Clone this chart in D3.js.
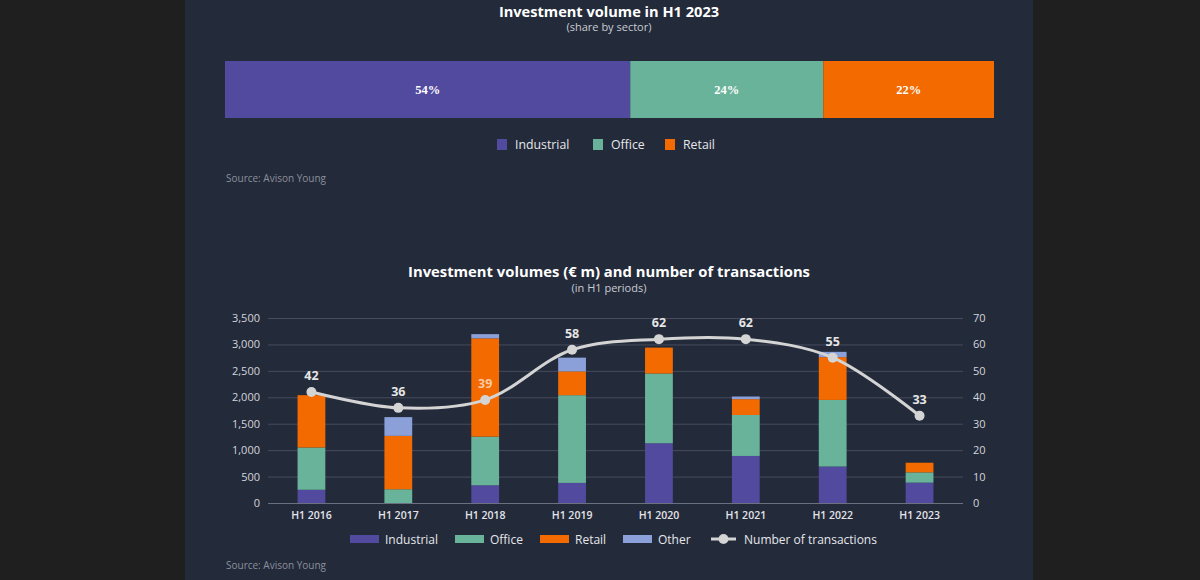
<!DOCTYPE html>
<html>
<head>
<meta charset="utf-8">
<script src="https://cdn.jsdelivr.net/npm/d3@7/dist/d3.min.js"></script>
<style>
  html, body { margin: 0; padding: 0; background: #1f1f1f; }
  svg { display: block; }
  text { font-family: "Open Sans", "Noto Sans", sans-serif; }
  text.serif { font-family: "Liberation Serif", "DejaVu Serif", serif; }
</style>
</head>
<body>
<svg id="chart" width="1200" height="580"></svg>
<script>
// ---------- DATA ----------
const shareSectors = ["Industrial", "Office", "Retail"];
const shareValues = [52.7, 25.1, 22.2];
const shareLabels = ["54%", "24%", "22%"];

const periods = ["H1 2016", "H1 2017", "H1 2018", "H1 2019", "H1 2020", "H1 2021", "H1 2022", "H1 2023"];
const industrial = [250, 0, 335, 380, 1130, 890, 690, 385];
const office = [800, 260, 920, 1660, 1320, 775, 1260, 195];
const retail = [990, 1010, 1860, 450, 490, 300, 810, 182];
const other = [0, 355, 80, 260, 0, 50, 100, 0];
const transactions = [42, 36, 39, 58, 62, 62, 55, 33];

const leftTicks = [0, 500, 1000, 1500, 2000, 2500, 3000, 3500];
const rightTicks = [0, 10, 20, 30, 40, 50, 60, 70];

const seriesNames = ["Industrial", "Office", "Retail", "Other"];
const colors = { Industrial: "#524a9e", Office: "#69b39a", Retail: "#f26a00", Other: "#8b9fd9" };

// ---------- SVG ----------
const svg = d3.select("#chart");
svg.append("rect").attr("x", 0).attr("y", 0).attr("width", 1200).attr("height", 580).attr("fill", "#1f1f1f");
svg.append("rect").attr("x", 185).attr("y", 0).attr("width", 848).attr("height", 580).attr("fill", "#232a3a");

const cx = 609;

// ---------- TOP CHART ----------
svg.append("text").attr("x", cx).attr("y", 17).attr("text-anchor", "middle")
  .attr("fill", "#ffffff").attr("font-size", 14.6).attr("font-weight", 700).text("Investment volume in H1 2023");
svg.append("text").attr("x", cx).attr("y", 31).attr("text-anchor", "middle")
  .attr("fill", "#c9ccd3").attr("font-size", 11).text("(share by sector)");

const shareTotal = d3.sum(shareValues);
const xs = d3.scaleLinear().domain([0, shareTotal]).range([225, 994]);
let acc = 0;
const shareData = shareValues.map((v, i) => { const d = { name: shareSectors[i], x0: acc, x1: acc + v, label: shareLabels[i] }; acc += v; return d; });
const topG = svg.append("g");
topG.selectAll("rect").data(shareData).enter().append("rect")
  .attr("x", d => xs(d.x0)).attr("y", 61).attr("width", d => xs(d.x1) - xs(d.x0)).attr("height", 57)
  .attr("fill", d => colors[d.name]);
topG.selectAll("text").data(shareData).enter().append("text")
  .attr("class", "serif")
  .attr("x", d => (xs(d.x0) + xs(d.x1)) / 2).attr("y", 94).attr("text-anchor", "middle")
  .attr("fill", "#ffffff").attr("font-size", 12.5).attr("font-weight", 700)
  .text(d => d.label);

// top legend
const topLegendX = [497, 593, 665];
shareSectors.forEach((s, i) => {
  svg.append("rect").attr("x", topLegendX[i]).attr("y", 139).attr("width", 10).attr("height", 11).attr("fill", colors[s]);
  svg.append("text").attr("x", topLegendX[i] + 18).attr("y", 149).attr("fill", "#e6e7ea")
    .attr("font-size", 12.3).text(s);
});
svg.append("text").attr("x", 226).attr("y", 182).attr("fill", "#8b909b").attr("font-size", 10).text("Source: Avison Young");

// ---------- BOTTOM CHART ----------
svg.append("text").attr("x", cx).attr("y", 277).attr("text-anchor", "middle")
  .attr("fill", "#ffffff").attr("font-size", 14.8).attr("font-weight", 700).text("Investment volumes (€ m) and number of transactions");
svg.append("text").attr("x", cx).attr("y", 292).attr("text-anchor", "middle")
  .attr("fill", "#c9ccd3").attr("font-size", 11).text("(in H1 periods)");

const x = d3.scaleBand().domain(periods).range([268, 963]).paddingInner(0.68).paddingOuter(0.34);
const y = d3.scaleLinear().domain([0, 3500]).range([503, 318]);
const y2 = d3.scaleLinear().domain([0, 70]).range([503, 318]);

// grid
svg.append("g").selectAll("line").data(leftTicks).enter().append("line")
  .attr("x1", 268).attr("x2", 963).attr("y1", d => y(d) + 0.5).attr("y2", d => y(d) + 0.5)
  .attr("stroke", d => d === 0 ? "#6b7080" : "#464c5c").attr("stroke-width", 1);

// left axis
const leftAxis = svg.append("g").attr("transform", "translate(268,0)")
  .call(d3.axisLeft(y).tickValues(leftTicks).tickFormat(d3.format(",")).tickSize(0).tickPadding(8));
leftAxis.select(".domain").remove();
leftAxis.selectAll("text").attr("fill", "#d3d5da").attr("font-size", 11);

// right axis
const rightAxis = svg.append("g").attr("transform", "translate(963,0)")
  .call(d3.axisRight(y2).tickValues(rightTicks).tickSize(0).tickPadding(10));
rightAxis.select(".domain").remove();
rightAxis.selectAll("text").attr("fill", "#d3d5da").attr("font-size", 11);

// x axis
const xAxis = svg.append("g").attr("transform", "translate(0,503)")
  .call(d3.axisBottom(x).tickSize(0).tickPadding(9));
xAxis.select(".domain").remove();
xAxis.selectAll("text").attr("fill", "#e3e4e8").attr("font-size", 10.5).attr("font-weight", 600);

// stacked bars
const rows = periods.map((p, i) => ({ period: p, Industrial: industrial[i], Office: office[i], Retail: retail[i], Other: other[i] }));
const stacked = d3.stack().keys(seriesNames)(rows);
svg.append("g").selectAll("g").data(stacked).enter().append("g")
  .attr("fill", d => colors[d.key])
  .selectAll("rect").data(d => d).enter().append("rect")
  .attr("x", d => x(d.data.period)).attr("width", x.bandwidth())
  .attr("y", d => y(d[1])).attr("height", d => y(d[0]) - y(d[1]));

// line
const pts = periods.map((p, i) => ({ p, v: transactions[i] }));
const line = d3.line().x(d => x(d.p) + x.bandwidth() / 2).y(d => y2(d.v)).curve(d3.curveCatmullRom.alpha(0.5));
svg.append("path").datum(pts).attr("d", line).attr("fill", "none").attr("stroke", "#d4d4d4").attr("stroke-width", 3);
svg.append("g").selectAll("circle").data(pts).enter().append("circle")
  .attr("cx", d => x(d.p) + x.bandwidth() / 2).attr("cy", d => y2(d.v)).attr("r", 5).attr("fill", "#d4d4d4");
svg.append("g").selectAll("text").data(pts).enter().append("text")
  .attr("x", d => x(d.p) + x.bandwidth() / 2).attr("y", d => y2(d.v) - 12).attr("text-anchor", "middle")
  .attr("fill", d => d.p === "H1 2018" ? "#f7c9a0" : "#e6e6e6").attr("font-size", 12.5).attr("font-weight", 700)
  .text(d => d.v);

// bottom legend
const legendItems = [
  { name: "Industrial", x: 350 }, { name: "Office", x: 455 }, { name: "Retail", x: 540 }, { name: "Other", x: 623 }
];
legendItems.forEach(it => {
  svg.append("rect").attr("x", it.x).attr("y", 535).attr("width", 29).attr("height", 8).attr("fill", colors[it.name]);
  svg.append("text").attr("x", it.x + 35).attr("y", 543.5).attr("fill", "#e6e7ea").attr("font-size", 12).text(it.name);
});
svg.append("line").attr("x1", 711).attr("x2", 736).attr("y1", 539).attr("y2", 539).attr("stroke", "#d4d4d4").attr("stroke-width", 3);
svg.append("circle").attr("cx", 723.5).attr("cy", 539).attr("r", 5).attr("fill", "#d4d4d4");
svg.append("text").attr("x", 744).attr("y", 543.5).attr("fill", "#e6e7ea").attr("font-size", 12).text("Number of transactions");

svg.append("text").attr("x", 226).attr("y", 569).attr("fill", "#8b909b").attr("font-size", 10).text("Source: Avison Young");
</script>
</body>
</html>
